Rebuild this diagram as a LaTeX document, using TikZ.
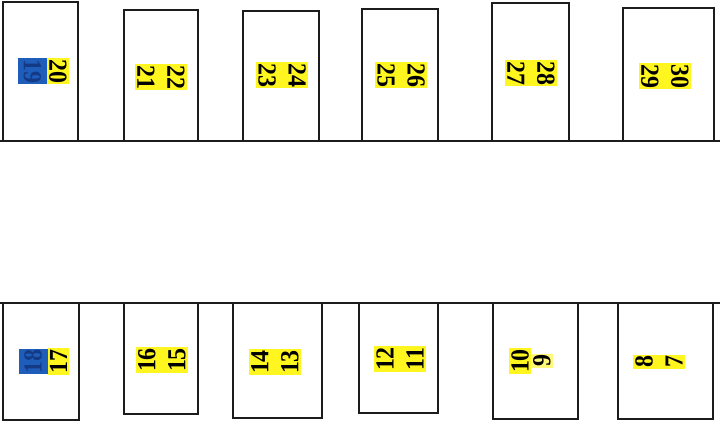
\documentclass[tikz,border=0pt]{standalone}
\usepackage{fontspec}
\setmainfont{Liberation Serif}
\newfontfamily\numfont[FakeStretch=0.92]{Liberation Serif}
\usepackage{xcolor}
\usepackage{tikz}
\usetikzlibrary{positioning}
\definecolor{hiyellow}{HTML}{FFF51F}
\definecolor{hiblue}{HTML}{1F5DBA}
\definecolor{inkblue}{HTML}{143A85}
\definecolor{stallline}{HTML}{1C1C1C}

\begin{document}
\begin{tikzpicture}[
    x=1pt, y=-1pt,
    stall/.style={draw=stallline, line width=1.6pt},
    curb/.style={draw=stallline, line width=1.6pt},
    lbl/.style={fill=hiyellow, align=center, inner xsep=1.5pt, inner ysep=2pt,
                font=\numfont\bfseries\fontsize{26}{30}\selectfont},
    toplbl/.style={lbl, rotate=-90},
    botlbl/.style={lbl, rotate=90},
    marked/.style={fill=hiblue, text=inkblue, minimum height=29pt,
                   inner xsep=1pt},
]
\useasboundingbox (0,0) rectangle (720,424);

% upper row
\draw[curb] (0,141) -- (720,141);
\draw[stall] (3,2) rectangle (78,141);
\draw[stall] (124,10) rectangle (198,141);
\draw[stall] (243,11) rectangle (319,141);
\draw[stall] (362,9) rectangle (438,141);
\draw[stall] (492,3) rectangle (569,141);
\draw[stall] (623,8) rectangle (714,141);

\node[toplbl] (n20) at (58,71) {20};
\node[toplbl, marked, anchor=north] (n19) at (n20.south) {19};
\node[toplbl] (n21) at (161,77) {22\\21};
\node[toplbl] (n23) at (282,75) {24\\23};
\node[toplbl] (n25) at (401,75) {26\\25};
\node[toplbl] (n27) at (531,73) {28\\27};
\node[toplbl] (n29) at (665,76) {30\\29};

% lower row
\draw[curb] (0,303) -- (720,303);
\draw[stall] (3,303) rectangle (79,420);
\draw[stall] (124,303) rectangle (198,414);
\draw[stall] (233,303) rectangle (322,418);
\draw[stall] (359,303) rectangle (438,413);
\draw[stall] (493,303) rectangle (578,419);
\draw[stall] (618,303) rectangle (713,419);

\node[botlbl] (n17) at (58.5,361.5) {17};
\node[botlbl, marked, anchor=south] (n18) at (n17.north) {18};
\node[botlbl] (n16) at (162,360) {16\\15};
\node[botlbl] (n14) at (275,362) {14\\13};
\node[botlbl] (n12) at (400,359) {12\\11};
\node[botlbl] (n10) at (520,361) {10};
\node[botlbl, fill=hiyellow!60, anchor=north] (n9) at (n10.south) {9};
\node[botlbl] (n8) at (659,362) {8\\7};
\end{tikzpicture}
\end{document}
